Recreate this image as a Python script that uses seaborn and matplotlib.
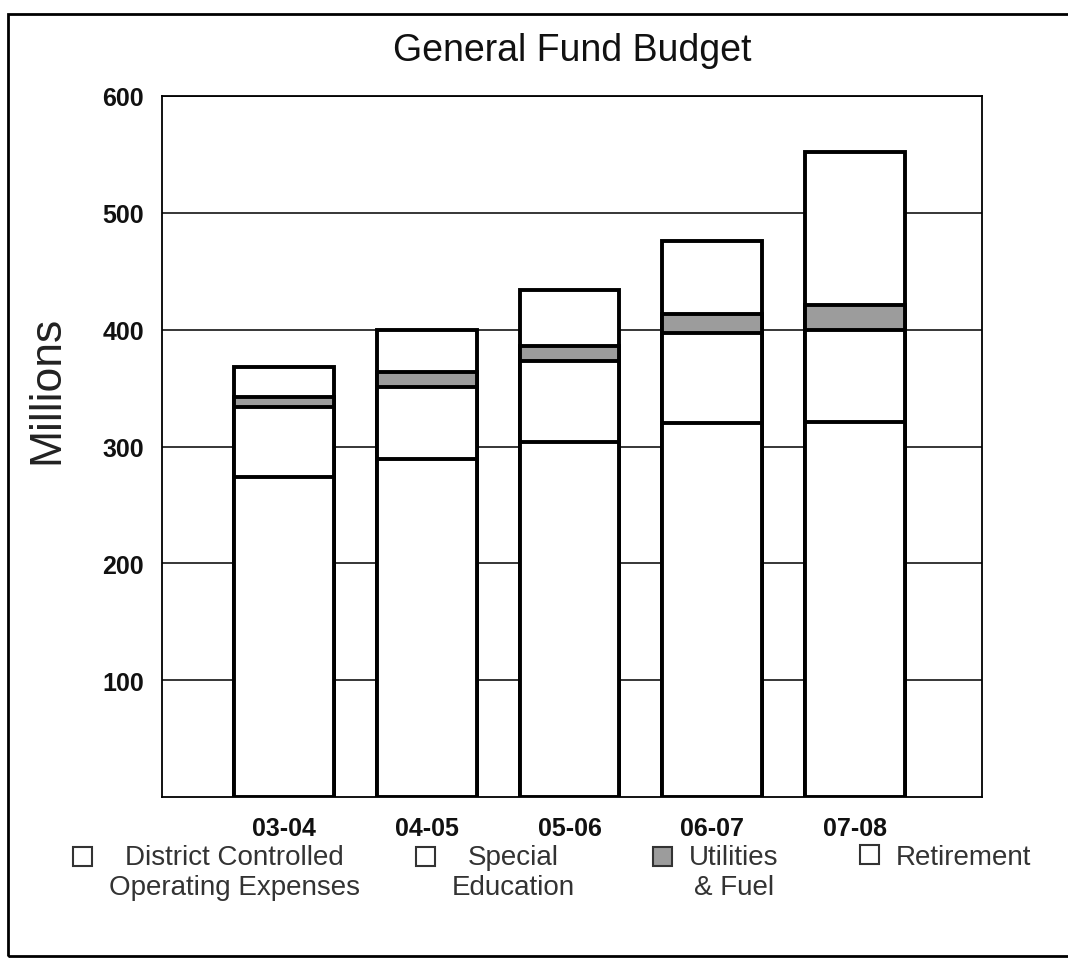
### General Fund Budget - stacked bars ###
import matplotlib
matplotlib.use("Agg")
import matplotlib.pyplot as plt
from matplotlib.patches import Rectangle, Patch
from matplotlib.legend_handler import HandlerPatch
import seaborn as sns
import numpy as np
import pandas as pd

# data (millions)
years = ["03-04", "04-05", "05-06", "06-07", "07-08"]
district = [274, 289, 304, 320, 321]
special_ed = [60, 62, 69, 77, 79]
utilities = [8, 13, 13, 16, 21]
retirement = [26, 36, 48, 63, 131]
y_ticks = [100, 200, 300, 400, 500, 600]

legend_labels = ["District Controlled\nOperating Expenses", "Special\nEducation",
                 "Utilities\n& Fuel", "Retirement"]

sns.set_style("white")
plt.rcParams["font.family"] = ["Liberation Sans", "DejaVu Sans"]

df = pd.DataFrame({"year": years, "district": district, "special": special_ed,
                   "utilities": utilities, "retirement": retirement})
df["c1"] = df["district"]
df["c2"] = df["c1"] + df["special"]
df["c3"] = df["c2"] + df["utilities"]
df["c4"] = df["c3"] + df["retirement"]

fig = plt.figure(figsize=(10.68, 9.62), dpi=100)
ax = fig.add_axes([162 / 1068, 1 - 798 / 962, 820 / 1068, 701 / 962])

# grid first, bars on top
for v in y_ticks:
    ax.axhline(v, color="black", lw=1.1, zorder=0)

# draw cumulative totals top-down so each layer covers the one behind it
layers = [("c4", "white"), ("c3", "#9c9c9c"), ("c2", "white"), ("c1", "white")]
for col, colr in layers:
    sns.barplot(data=df, x="year", y=col, color=colr, saturation=1,
                edgecolor="black", linewidth=2.8, width=0.70, ax=ax, zorder=2)

ax.set_xlim(-0.855, 4.89)
ax.set_ylim(0, 600)
ax.set_yticks(y_ticks)
ax.set_xlabel("")
ax.set_ylabel("Millions", fontsize=32, color="#222222")
ax.yaxis.set_label_coords(-0.116, 0.582)

ax.tick_params(axis="y", length=5, width=1, color="#999999", pad=8, labelsize=18)
ax.tick_params(axis="x", length=0, pad=14, labelsize=18)
for lab in ax.get_xticklabels() + ax.get_yticklabels():
    lab.set_fontweight("bold")
    lab.set_color("#111111")

for s in ["left", "bottom", "right", "top"]:
    ax.spines[s].set_visible(True)
    ax.spines[s].set_color("black")
    ax.spines[s].set_linewidth(1.3)

ax.set_title("General Fund Budget", fontsize=27, pad=26, color="#111111")


# legend box sits level with the first text line, as in the original
def top_box(shift):
    def make(legend, orig_handle, xdescent, ydescent, width, height, fontsize):
        return Rectangle((-xdescent, -ydescent + shift), width, height)
    return make


leg_colors = ["white", "white", "#9c9c9c", "white"]
leg_x = [73, 416, 653, 860]
for lbl, colr, x in zip(legend_labels, leg_colors, leg_x):
    h = Patch(facecolor=colr, edgecolor="#333333", linewidth=1.5, label=lbl)
    shift = 11.5 if "\n" in lbl else 0
    leg = fig.legend(handles=[h], loc="upper left",
                     bbox_to_anchor=(x / 1068, 1 - 845 / 962),
                     frameon=False, fontsize=20, borderpad=0, borderaxespad=0,
                     handlelength=0.7, handleheight=0.7, handletextpad=0.6,
                     labelcolor="#333333",
                     handler_map={Patch: HandlerPatch(patch_func=top_box(shift))})
    for t in leg.get_texts():
        t.set_multialignment("center")

# outer border of the original figure
fig.patches.append(Rectangle((8 / 1068, 1 - 957 / 962), 1.05, 942 / 962,
                             transform=fig.transFigure, fill=False,
                             edgecolor="black", linewidth=2))

fig.savefig("out.png", dpi=100, facecolor="white")
